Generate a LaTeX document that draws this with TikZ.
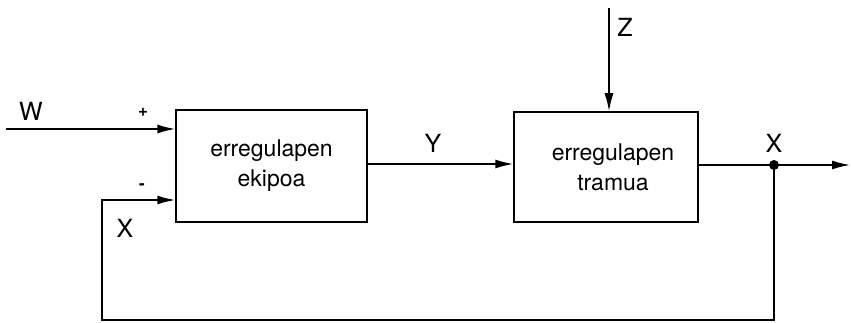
\documentclass[tikz,border=0pt]{standalone}
\usepackage{fontspec}
\setmainfont{TeX Gyre Heros}
\usetikzlibrary{arrows.meta}
\begin{document}
\begin{tikzpicture}[x=1pt,y=-1pt,
  line/.style={line width=1.5pt},
  arr/.style={line, -{Latex[length=18pt,width=9pt]}},
  blk/.style={draw,line width=1.5pt,align=center,inner sep=0pt,
     font=\fontsize{23}{30}\selectfont},
  lbl/.style={font=\fontsize{25}{28}\selectfont,inner sep=0pt},
  sgn/.style={font=\fontsize{17}{18}\selectfont\bfseries,inner sep=0pt}]
\useasboundingbox (0,0) rectangle (851,323);
\node[blk,minimum width=191pt,minimum height=112pt] (b1) at (271.5,166) {erregulapen\\ekipoa};
\node[blk,minimum width=184pt,minimum height=110pt] (b2) at (606,167) {\hspace*{14pt}erregulapen\\\hspace*{14pt}tramua};
\coordinate (win) at (6,129);
\coordinate (wend) at (b1.west |- win);
\coordinate (fbin) at (b1.west |- 0,200);
\coordinate (j) at (774,165);
\coordinate (out) at (850,165);
\coordinate (zs) at (609,8);
\coordinate (zend) at (zs |- b2.north);
\coordinate (bl) at (102,320);
\coordinate (br) at (j |- bl);
\draw[arr] (win) -- (wend);
\draw[arr] (b1.east |- 0,164) -- (b2.west |- 0,164);
\draw[arr] (zs) -- (zend);
\draw[line] (b2.east |- j) -- (j);
\draw[arr] (j) -- (out);
\draw[arr] (j) -- (br) -- (bl) -- (bl |- fbin) -- (fbin);
\fill (j) circle (5pt);
\node[lbl] (lw) at (31,111) {W};
\node[sgn] (lp) at (143,112) {+};
\node[sgn] (lm) at (142,187) {-};
\node[lbl] (lx1) at (125,228) {X};
\node[lbl] (ly) at (433,143) {Y};
\node[lbl] (lx2) at (774,143) {X};
\node[lbl] (lz) at (625,27) {Z};
\end{tikzpicture}
\end{document}
